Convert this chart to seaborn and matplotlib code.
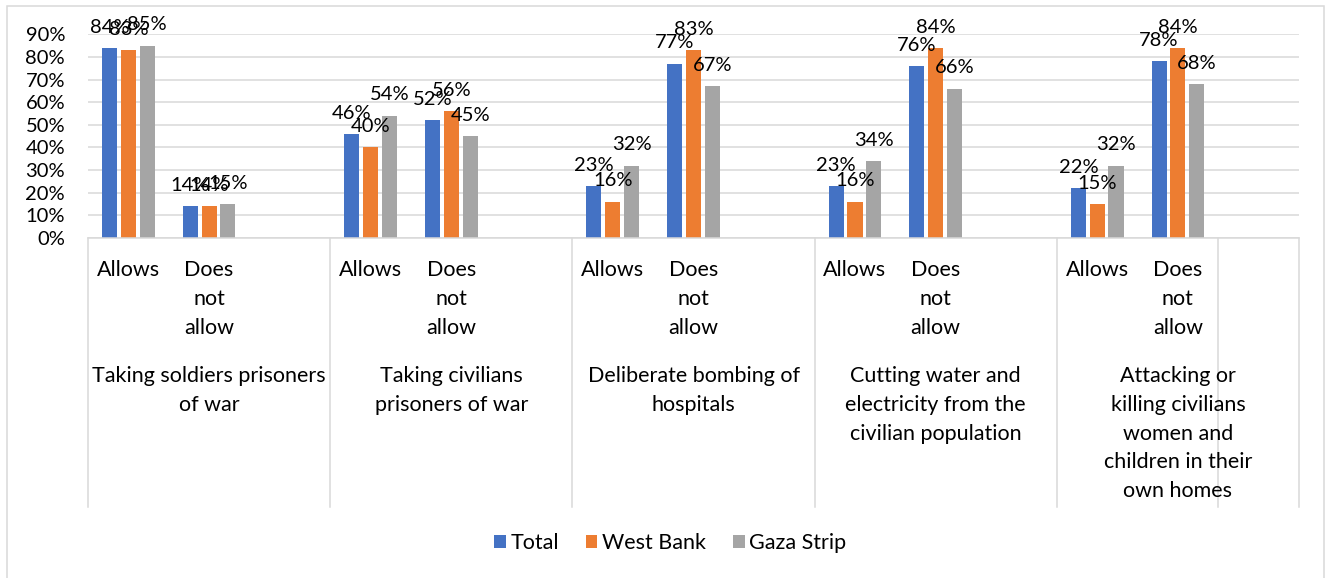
import matplotlib
matplotlib.use("Agg")
import numpy as np
import pandas as pd
import seaborn as sns
import matplotlib.pyplot as plt
from matplotlib.transforms import blended_transform_factory
from matplotlib.lines import Line2D
from matplotlib.patches import Patch, Rectangle

# ---------------- data ----------------
groups = [
    "Taking soldiers prisoners\nof war",
    "Taking civilians\nprisoners of war",
    "Deliberate bombing of\nhospitals",
    "Cutting water and\nelectricity from the\ncivilian population",
    "Attacking or\nkilling civilians\nwomen and\nchildren in their\nown homes",
]
responses = ["Allows", "Does\nnot\nallow"]
series = ["Total", "West Bank", "Gaza Strip"]
total_vals = [84, 14, 46, 52, 23, 77, 23, 76, 22, 78]
west_bank_vals = [83, 14, 40, 56, 16, 83, 16, 84, 15, 84]
gaza_vals = [85, 15, 54, 45, 32, 67, 34, 66, 32, 68]
y_ticks = [0, 10, 20, 30, 40, 50, 60, 70, 80, 90]
colors = ["#4472C4", "#ED7D31", "#A5A5A5"]

# ---------------- build table ----------------
order = []
slot_labels = []
for g in range(len(groups)):
    for r in responses:
        order.append(f"{g}|{r}")
        slot_labels.append(r)
    order.append(f"{g}|blank")
    slot_labels.append("")

rows = []
i = 0
for g in range(len(groups)):
    for r in responses:
        for s, vals in zip(series, [total_vals, west_bank_vals, gaza_vals]):
            rows.append({"slot": f"{g}|{r}", "series": s, "value": vals[i]})
        i += 1
df = pd.DataFrame(rows)

plt.rcParams["font.family"] = ["Lato", "DejaVu Sans"]
FS_NUM = 14.5
FS_TXT = 15.5

W, H = 1329, 578
fig = plt.figure(figsize=(W / 100, H / 100), dpi=100)
ax_left, ax_right, ax_top, ax_bottom = 88, 1299, 34.3, 238
ax = fig.add_axes([ax_left / W, 1 - ax_bottom / H, (ax_right - ax_left) / W, (ax_bottom - ax_top) / H])

sns.barplot(data=df, x="slot", y="value", hue="series", order=order, hue_order=series,
            palette=colors, width=0.7, gap=0.2, ax=ax, legend=False, saturation=1,
            errorbar=None)

ax.set_xlim(-0.5, len(order) - 0.5)
ax.set_ylim(0, 90)
ax.set_yticks(y_ticks)
ax.set_yticklabels([f"{t}%" for t in y_ticks], fontsize=FS_NUM)
ax.tick_params(axis="y", length=0, pad=16.5)
ax.set_xticks([])
ax.set_xlabel("")
ax.set_ylabel("")
ax.yaxis.grid(True, color="#D9D9D9", lw=1.1)
ax.set_axisbelow(True)
for side in ["left", "right", "top"]:
    ax.spines[side].set_visible(False)
ax.spines["bottom"].set_color("#D9D9D9")
ax.spines["bottom"].set_linewidth(1.1)

# data labels
for cont in ax.containers:
    for p in cont:
        h = p.get_height()
        if h is None or np.isnan(h) or h == 0:
            continue
        ax.annotate(f"{h:.0f}%", (p.get_x() + p.get_width() / 2, h),
                    xytext=(0, 15), textcoords="offset points",
                    ha="center", va="center", fontsize=FS_NUM, color="#000000")

# category labels
tr = blended_transform_factory(ax.transData, fig.transFigure)
def fy(px):
    return 1 - px / H

for k, lab in enumerate(slot_labels):
    for j, line in enumerate(lab.split("\n")):
        if line:
            ax.text(k, fy(270 + 29 * j), line, transform=tr, ha="center", va="center",
                    fontsize=FS_TXT, clip_on=False)
for g, lab in enumerate(groups):
    cx = g * 3 + 1
    for j, line in enumerate(lab.split("\n")):
        ax.text(cx, fy(376 + 28.8 * j), line, transform=tr, ha="center", va="center",
                fontsize=FS_TXT, clip_on=False)

# separators
for xs in [-0.5, 2.5, 5.5, 8.5, 11.5, 13.5, 14.5]:
    ax.add_line(Line2D([xs, xs], [fy(ax_bottom), fy(507)], transform=tr, color="#D9D9D9",
                       lw=1.1, clip_on=False))

# legend
handles = [Patch(facecolor=c, edgecolor="none") for c in colors]
fig.legend(handles, series, loc="center", bbox_to_anchor=(670 / W, fy(543)), ncol=3,
           frameon=False, fontsize=FS_TXT, handlelength=0.55, handleheight=0.55,
           handletextpad=0.2, columnspacing=1.25)

# outer frame
fig.add_artist(Rectangle((7 / W, -0.05), (1324 - 7) / W, 1.05 - 6 / H, transform=fig.transFigure,
                         fill=False, edgecolor="#D9D9D9", lw=1.1))

fig.savefig("out.png", dpi=100)
